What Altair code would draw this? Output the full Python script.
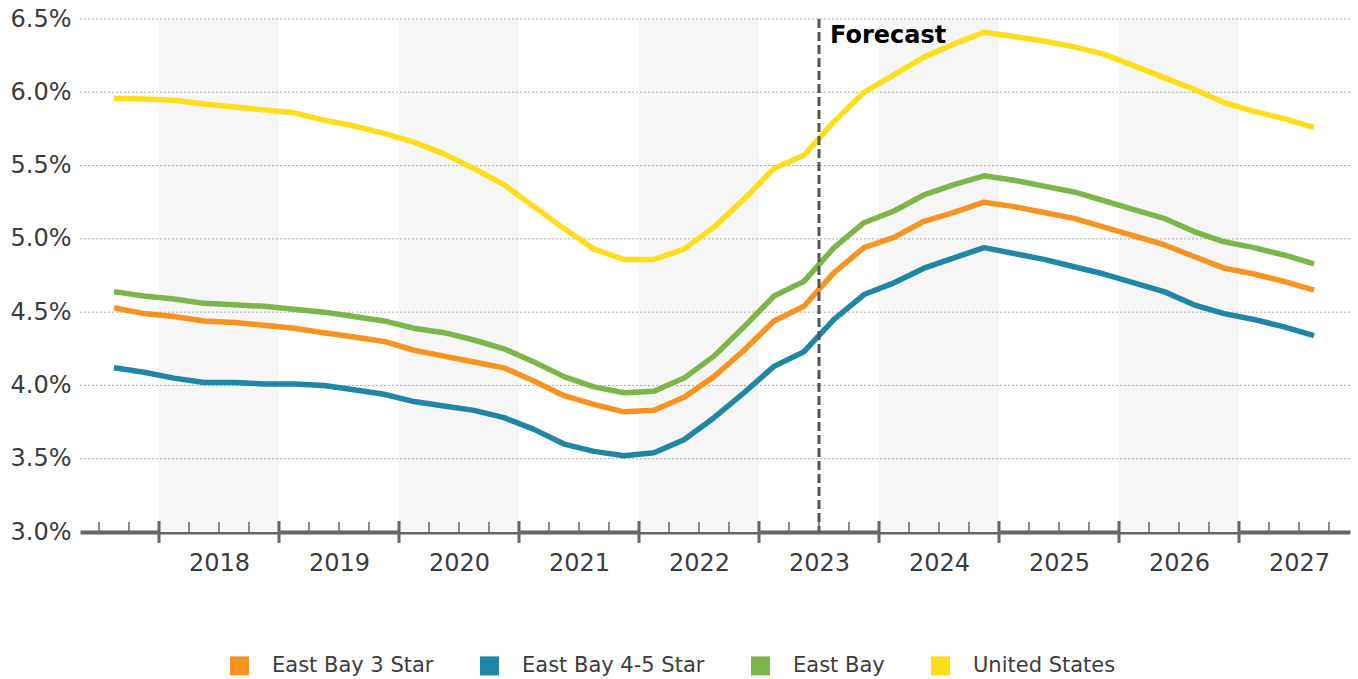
import altair as alt
import pandas as pd

# ---- data -------------------------------------------------------------
quarters = [str(p) for p in pd.period_range("2017Q3", "2027Q3", freq="Q")]

east_bay_3 = [4.53, 4.49, 4.47, 4.44, 4.43, 4.41, 4.39, 4.36, 4.33, 4.30,
              4.24, 4.20, 4.16, 4.12, 4.03, 3.93, 3.87, 3.82, 3.83, 3.92,
              4.06, 4.24, 4.44, 4.54, 4.77, 4.94, 5.01, 5.12, 5.18, 5.25,
              5.22, 5.18, 5.14, 5.08, 5.02, 4.96, 4.88, 4.80, 4.76, 4.71,
              4.65]
east_bay_45 = [4.12, 4.09, 4.05, 4.02, 4.02, 4.01, 4.01, 4.00, 3.97, 3.94,
               3.89, 3.86, 3.83, 3.78, 3.70, 3.60, 3.55, 3.52, 3.54, 3.63,
               3.78, 3.95, 4.13, 4.23, 4.45, 4.62, 4.70, 4.80, 4.87, 4.94,
               4.90, 4.86, 4.81, 4.76, 4.70, 4.64, 4.55, 4.49, 4.45, 4.40,
               4.34]
east_bay = [4.64, 4.61, 4.59, 4.56, 4.55, 4.54, 4.52, 4.50, 4.47, 4.44,
            4.39, 4.36, 4.31, 4.25, 4.16, 4.06, 3.99, 3.95, 3.96, 4.05,
            4.20, 4.40, 4.61, 4.71, 4.94, 5.11, 5.19, 5.30, 5.37, 5.43,
            5.40, 5.36, 5.32, 5.26, 5.20, 5.14, 5.05, 4.98, 4.94, 4.89,
            4.83]
united_states = [5.96, 5.955, 5.945, 5.92, 5.90, 5.88, 5.86, 5.81, 5.77, 5.72,
                 5.66, 5.58, 5.48, 5.37, 5.22, 5.07, 4.93, 4.86, 4.86, 4.93,
                 5.08, 5.27, 5.48, 5.57, 5.80, 6.00, 6.12, 6.24, 6.33, 6.41,
                 6.38, 6.35, 6.31, 6.26, 6.18, 6.10, 6.02, 5.93, 5.87, 5.82,
                 5.76]

series_names = ["East Bay 3 Star", "East Bay 4-5 Star", "East Bay", "United States"]
series_colors = ["#F7931E", "#1F86A6", "#7AB648", "#FFDD1A"]
series_values = [east_bay_3, east_bay_45, east_bay, united_states]

years = list(range(2018, 2028))
shaded_years = [2018, 2020, 2022, 2024, 2026]
y_ticks = [3.0, 3.5, 4.0, 4.5, 5.0, 5.5, 6.0, 6.5]
forecast_start = 2023.5
forecast_label = "Forecast"

# ---- tables ------------------------------------------------------------
def q_to_x(q):
    y, n = q.split("Q")
    return int(y) + (int(n) - 0.5) / 4

rows = []
for name, vals in zip(series_names, series_values):
    for q, v in zip(quarters, vals):
        rows.append({"t": q_to_x(q), "v": v, "series": name})
df = pd.DataFrame(rows)

bands_df = pd.DataFrame({"x0": shaded_years, "x1": [y + 1 for y in shaded_years]})
grid_df = pd.DataFrame({"v": [v for v in y_ticks if v > 3.0]})
major_df = pd.DataFrame({"t": years})
minor_df = pd.DataFrame({"t": [y + f for y in [2017] + years for f in (0.25, 0.5, 0.75)
                               if 2017.4 < y + f < 2027.9]})
fc_df = pd.DataFrame({"t": [forecast_start], "label": [forecast_label]})

# ---- scales / layout ----------------------------------------------------
W, H = 1270, 513
FONT = "DejaVu Sans"
TXT = "#3c3c3c"
xscale = alt.Scale(domain=[2017.3417, 2027.925], nice=False, zero=False)
yscale = alt.Scale(domain=[3.0, 6.5], nice=False, zero=False)

x_axis = alt.Axis(values=[y + 0.5 for y in years], labelExpr="'' + floor(datum.value)",
                  title=None, grid=False, ticks=False, domain=True, domainColor="#666666",
                  domainWidth=4, labelFontSize=24, labelFont=FONT, labelColor=TXT,
                  labelPadding=19)
y_axis = alt.Axis(values=y_ticks, labelExpr="format(datum.value, '.1f') + '%'",
                  title=None, grid=False, ticks=False, domain=False, labelFontSize=24,
                  labelFont=FONT, labelColor=TXT, labelPadding=9)

bands = alt.Chart(bands_df).mark_rect(color="#F6F6F6").encode(
    x=alt.X("x0:Q", scale=xscale, axis=x_axis),
    x2="x1:Q",
    y=alt.value(0), y2=alt.value(H),
)

grid = alt.Chart(grid_df).mark_rule(color="#AAAAAA", strokeDash=[2, 2], strokeWidth=1).encode(
    y=alt.Y("v:Q", scale=yscale, axis=y_axis),
    x=alt.value(0), x2=alt.value(W),
)

lines = alt.Chart(df).mark_line(strokeWidth=5.5, strokeJoin="round").encode(
    x=alt.X("t:Q", scale=xscale, axis=x_axis),
    y=alt.Y("v:Q", scale=yscale, axis=y_axis),
    color=alt.Color("series:N",
                    scale=alt.Scale(domain=series_names, range=series_colors),
                    sort=series_names,
                    legend=alt.Legend(
                        title=None, orient="none", legendX=149, legendY=636,
                        direction="horizontal", symbolType="square", symbolSize=90,
                        symbolStrokeWidth=9.5, labelFontSize=21, labelFont=FONT,
                        labelColor=TXT, columnPadding=31, labelOffset=22, padding=0,
                        labelLimit=500)),
    detail="series:N",
)

forecast_rule = alt.Chart(fc_df).mark_rule(color="#555555", strokeWidth=3,
                                           strokeDash=[9, 4]).encode(
    x=alt.X("t:Q", scale=xscale, axis=x_axis),
    y=alt.value(0), y2=alt.value(H),
)

minor_ticks = alt.Chart(minor_df).mark_rule(color="#666666", strokeWidth=1.5).encode(
    x=alt.X("t:Q", scale=xscale, axis=x_axis),
    y=alt.value(H - 10), y2=alt.value(H),
)

major_ticks = alt.Chart(major_df).mark_rule(color="#666666", strokeWidth=3).encode(
    x=alt.X("t:Q", scale=xscale, axis=x_axis),
    y=alt.value(H - 11), y2=alt.value(H + 11),
)

forecast_text = alt.Chart(fc_df).mark_text(
    align="left", baseline="alphabetic", dx=11, fontSize=24, fontWeight="bold",
    font=FONT, color="#000000").encode(
    x=alt.X("t:Q", scale=xscale, axis=x_axis),
    y=alt.value(24),
    text="label:N",
)

chart = alt.layer(
    bands, grid, lines, forecast_rule, minor_ticks, major_ticks, forecast_text
).properties(
    width=W, height=H,
    padding={"left": 80, "top": 19, "right": 8, "bottom": 147},
    autosize=alt.AutoSizeParams(type="none"),
    background="white",
).configure_view(stroke=None)

chart.save("out.html", embed_options={"renderer": "svg", "actions": False})
